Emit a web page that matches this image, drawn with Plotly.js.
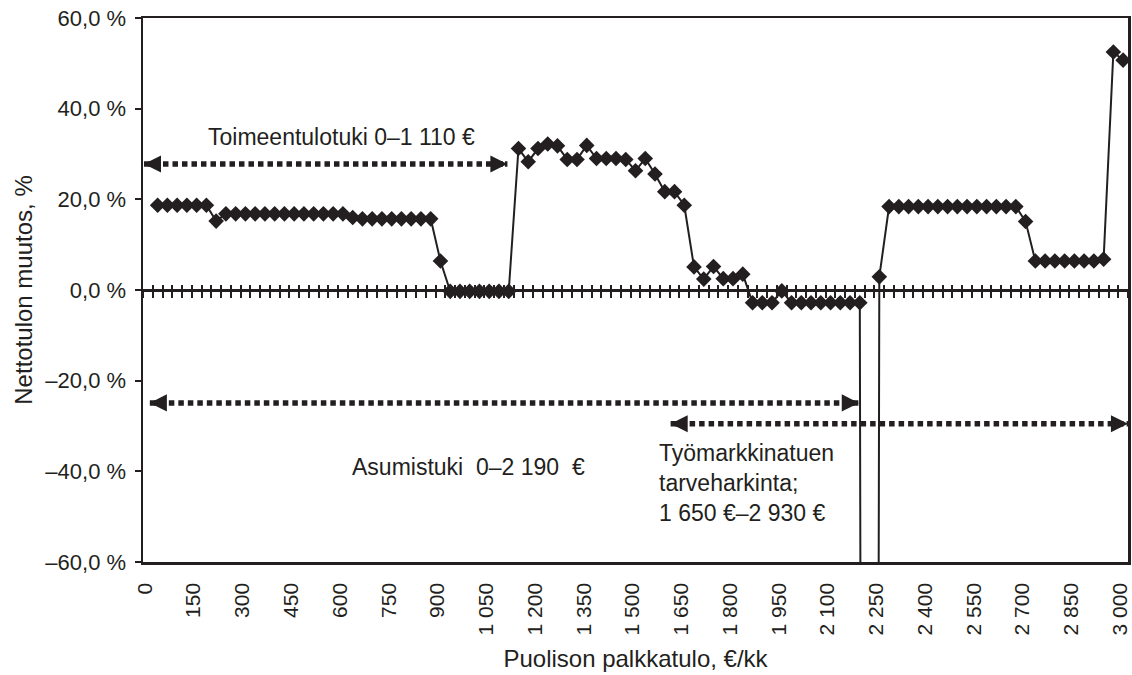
<!DOCTYPE html>
<html>
<head>
<meta charset="utf-8">
<script src="https://cdn.plot.ly/plotly-3.0.1.min.js"></script>
<style>html,body{margin:0;padding:0;background:#fff;}</style>
</head>
<body>
<div id="plot1" style="width:1132px;height:675px;"></div>
<script>
/////////////////////////////////////////////// data ///////////////////////////////////////////////////////
// spouse wage, €/kk (one step = 30 €)
const wage = [
  0, 30, 60, 90, 120, 150, 180, 210, 240, 270,
  300, 330, 360, 390, 420, 450, 480, 510, 540, 570,
  600, 630, 660, 690, 720, 750, 780, 810, 840, 870,
  900, 930, 960, 990, 1020, 1050, 1080, 1110, 1140, 1170,
  1200, 1230, 1260, 1290, 1320, 1350, 1380, 1410, 1440, 1470,
  1500, 1530, 1560, 1590, 1620, 1650, 1680, 1710, 1740, 1770,
  1800, 1830, 1860, 1890, 1920, 1950, 1980, 2010, 2040, 2070,
  2100, 2130, 2160, 2190, 2220, 2250, 2280, 2310, 2340, 2370,
  2400, 2430, 2460, 2490, 2520, 2550, 2580, 2610, 2640, 2670,
  2700, 2730, 2760, 2790, 2820, 2850, 2880, 2910, 2940, 2970,
  3000,
];

// change of net income, %  (2220 drops far below the chart)
const netChange = [
  null, 18.7, 18.7, 18.7, 18.7, 18.7, 18.7, 15.2, 16.8, 16.8,
  16.8, 16.8, 16.8, 16.8, 16.8, 16.8, 16.8, 16.8, 16.8, 16.8,
  16.8, 16.0, 15.7, 15.7, 15.7, 15.7, 15.7, 15.7, 15.7, 15.7,
  6.4, -0.3, -0.3, -0.3, -0.3, -0.3, -0.3, -0.3, 31.2, 28.3,
  31.2, 32.2, 31.8, 28.8, 28.8, 31.9, 29.0, 29.0, 29.0, 28.8,
  26.3, 29.0, 25.6, 21.7, 21.7, 18.7, 5.1, 2.4, 5.2, 2.5,
  2.5, 3.5, -2.8, -2.8, -2.8, -0.2, -2.8, -2.8, -2.8, -2.8,
  -2.8, -2.8, -2.8, -2.8, -1000, 2.9, 18.4, 18.4, 18.4, 18.4,
  18.4, 18.4, 18.4, 18.4, 18.4, 18.4, 18.4, 18.4, 18.4, 18.4,
  15.1, 6.4, 6.4, 6.4, 6.4, 6.4, 6.4, 6.4, 6.8, 52.5,
  50.7,
];

const xTickVals = [0, 150, 300, 450, 600, 750, 900, 1050, 1200, 1350, 1500, 1650, 1800, 1950, 2100, 2250, 2400, 2550, 2700, 2850, 3000];
const xTickText = ['0', '150', '300', '450', '600', '750', '900', '1 050', '1 200', '1 350', '1 500', '1 650', '1 800', '1 950', '2 100', '2 250', '2 400', '2 550', '2 700', '2 850', '3 000'];
const yTickVals = [-60, -40, -20, 0, 20, 40, 60];
const yTickText = ['–60,0 %', '–40,0 %', '–20,0 %', '0,0 %', '20,0 %', '40,0 %', '60,0 %'];

// benefit ranges drawn as dotted double arrows
const rangeNames = ['Toimeentulotuki', 'Asumistuki', 'Työmarkkinatuki'];
const rangeFrom = [-12, 6, 1608];
const rangeTo = [1106, 2187, 3015];
const rangeLevel = [27.8, -24.9, -29.5];

const ink = '#231f20';
const fontFam = 'Liberation Sans, Arial, sans-serif';

/////////////////////////////////////////////// traces ///////////////////////////////////////////////////////
let dataTemp = [];
dataTemp.push({
  x: wage,
  y: netChange,
  type: 'scatter',
  mode: 'lines+markers',
  line: { color: ink, width: 2 },
  marker: { symbol: 'diamond', size: 12, color: ink },
  connectgaps: false,
  hoverinfo: 'skip',
});

let arrowHeads = [];
for (let i = 0; i < rangeNames.length; i++) {
  dataTemp.push({
    x: [rangeFrom[i], rangeTo[i]],
    y: [rangeLevel[i], rangeLevel[i]],
    type: 'scatter',
    mode: 'lines',
    line: { color: ink, width: 5.5, dash: '5.5px,4px' },
    hoverinfo: 'skip',
  });
  arrowHeads.push({ x: rangeFrom[i], y: rangeLevel[i], xref: 'x', yref: 'y', ax: 14, ay: 0, text: '',
    showarrow: true, arrowhead: 2, arrowsize: 0.62, arrowwidth: 5.5, arrowcolor: ink });
  arrowHeads.push({ x: rangeTo[i], y: rangeLevel[i], xref: 'x', yref: 'y', ax: -14, ay: 0, text: '',
    showarrow: true, arrowhead: 2, arrowsize: 0.62, arrowwidth: 5.5, arrowcolor: ink });
}

// dummy traces so the crossing tick axes on the zero line get drawn
dataTemp.push({ x: [0], y: [0], xaxis: 'x2', mode: 'markers', marker: { opacity: 0 }, hoverinfo: 'skip' });
dataTemp.push({ x: [0], y: [0], xaxis: 'x3', mode: 'markers', marker: { opacity: 0 }, hoverinfo: 'skip' });

/////////////////////////////////////////////// texts ///////////////////////////////////////////////////////
const tmtLines = ['Työmarkkinatuen', 'tarveharkinta;', '1 650 €–2 930 €'];
const tmtLevels = [-35.9, -42.6, -49.2];

let labels = [
  { x: 597, y: 33.7, text: 'Toimeentulotuki 0–1 110 €', xanchor: 'center' },
  { x: 622, y: -39.0, text: 'Asumistuki\u00a0 0–2 190\u00a0 €', xanchor: 'left' },
];
for (let i = 0; i < tmtLines.length; i++) {
  labels.push({ x: 1565, y: tmtLevels[i], text: tmtLines[i], xanchor: 'left' });
}
labels = labels.map(a => Object.assign({ xref: 'x', yref: 'y', showarrow: false, yanchor: 'middle',
  font: { family: fontFam, size: 23, color: ink } }, a));

/////////////////////////////////////////////// layout ///////////////////////////////////////////////////////
const zeroTicks = {
  overlaying: 'x', matches: 'x', range: [-15, 3015], anchor: 'free', position: 0.5,
  showline: true, linewidth: 2.5, linecolor: ink,
  tickmode: 'linear', tick0: -15, dtick: 30, tickwidth: 2, tickcolor: ink,
  showticklabels: false, showgrid: false, zeroline: false,
};

const layoutScatter = {
  width: 1132,
  height: 675,
  margin: { l: 143, r: 4, t: 18, b: 113 },
  paper_bgcolor: '#ffffff',
  plot_bgcolor: '#ffffff',
  showlegend: false,
  font: { family: fontFam, size: 22, color: ink },
  xaxis: {
    type: 'linear',
    range: [-15, 3015],
    tickmode: 'array',
    tickvals: xTickVals,
    ticktext: xTickText,
    tickangle: -90,
    ticks: '',
    ticklabelstandoff: 10,
    ticklabelshift: -3,
    ticklabeloverflow: 'allow',
    tickfont: { family: fontFam, size: 21, color: ink },
    showgrid: false,
    zeroline: false,
    showline: true,
    linewidth: 2.5,
    linecolor: ink,
    mirror: true,
    title: { text: 'Puolison palkkatulo, €/kk', standoff: 16, font: { family: fontFam, size: 24, color: ink } },
  },
  xaxis2: Object.assign({}, zeroTicks, { ticks: 'outside', ticklen: 6 }),
  xaxis3: Object.assign({}, zeroTicks, { ticks: 'inside', ticklen: 4 }),
  yaxis: {
    range: [-60, 60],
    tickmode: 'array',
    tickvals: yTickVals,
    ticktext: yTickText,
    ticks: 'outside',
    ticklen: 6,
    tickwidth: 2,
    tickcolor: ink,
    ticklabelstandoff: 4,
    tickfont: { family: fontFam, size: 22, color: ink },
    showgrid: false,
    zeroline: false,
    showline: true,
    linewidth: 2.5,
    linecolor: ink,
    mirror: true,
    title: { text: 'Nettotulon muutos, %', standoff: 6, font: { family: fontFam, size: 24, color: ink } },
  },
  annotations: labels.concat(arrowHeads),
};

Plotly.newPlot('plot1', dataTemp, layoutScatter, { displayModeBar: false, staticPlot: true });
</script>
</body>
</html>
